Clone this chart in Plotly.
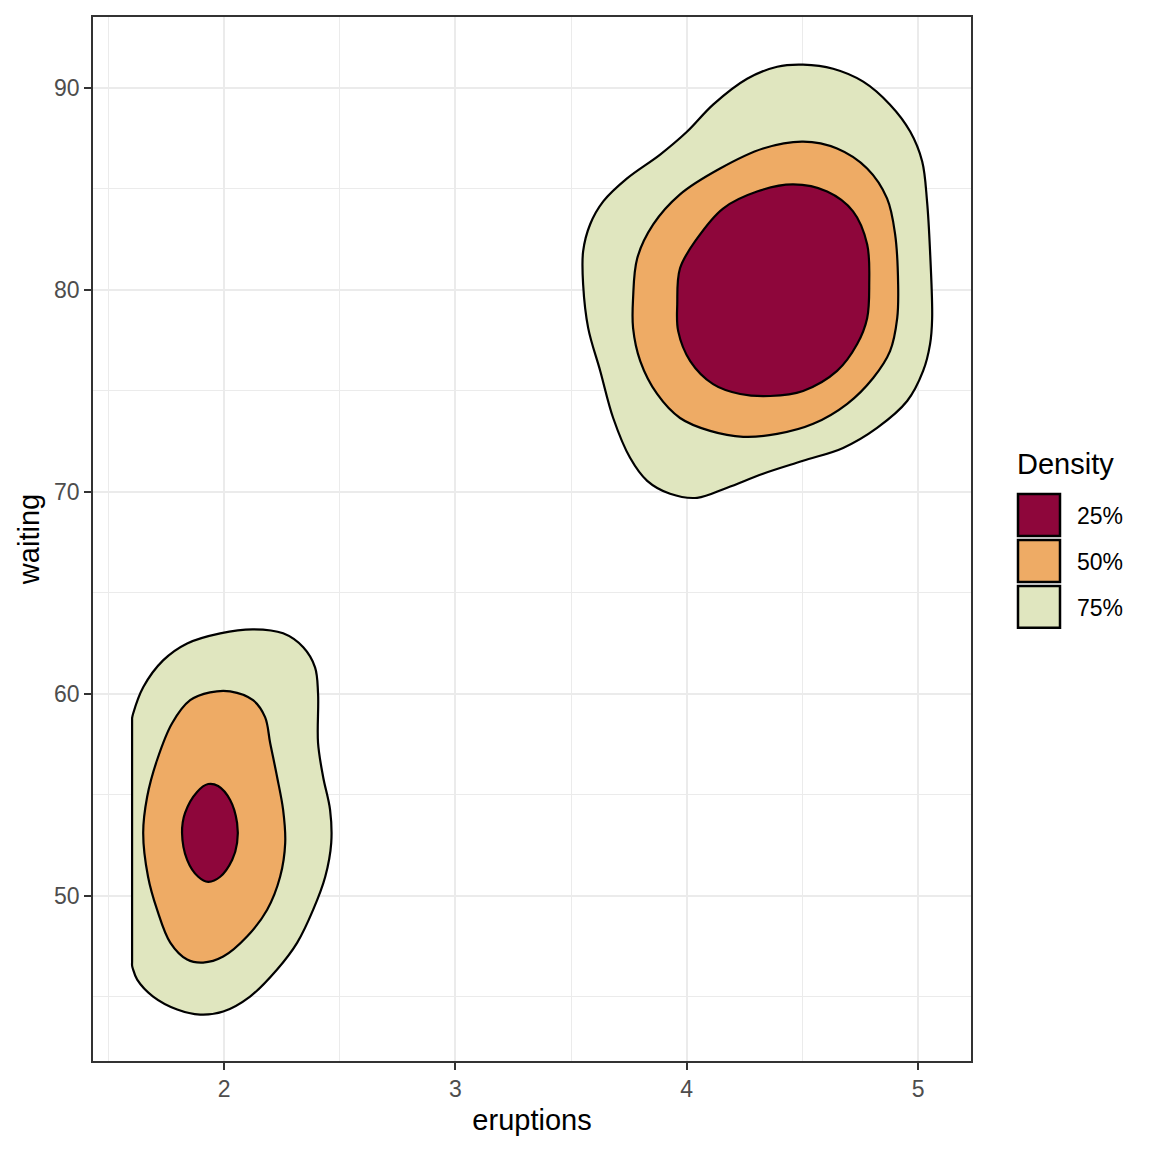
import plotly.graph_objects as go

# Highest-density-region outlines for faithful (eruptions vs waiting),
# read off the reference plot. Two clusters, three levels each.
levels = ['25%', '50%', '75%']
level_fill = {'25%': '#8E063B', '50%': '#EEAB65', '75%': '#E0E6BF'}

# long-eruption cluster (upper right)
hi_75_x = [3.552, 3.582, 3.639, 3.742, 3.885, 4.002, 4.114, 4.261, 4.391, 4.503,
           4.633, 4.763, 4.879, 4.966, 5.018, 5.039, 5.052, 5.061, 5.052, 5.022,
           4.953, 4.823, 4.676, 4.503, 4.330, 4.175, 4.045, 3.928, 3.829, 3.755,
           3.682, 3.626, 3.574, 3.552, 3.552]
hi_75_y = [81.90, 83.23, 84.37, 85.51, 86.69, 87.83, 89.16, 90.44, 91.04, 91.14,
           90.94, 90.30, 89.16, 87.83, 86.35, 84.37, 81.90, 78.59, 77.31, 75.98,
           74.49, 73.16, 72.17, 71.53, 70.89, 70.20, 69.70, 69.90, 70.54, 71.68,
           73.65, 75.98, 78.10, 80.27, 81.90]

hi_50_x = [3.768, 3.786, 3.855, 3.971, 4.144, 4.330, 4.503, 4.650, 4.780, 4.866,
           4.901, 4.914, 4.910, 4.879, 4.806, 4.694, 4.547, 4.391, 4.244, 4.101,
           3.971, 3.872, 3.799, 3.768, 3.768]
hi_50_y = [79.58, 81.56, 83.23, 84.72, 86.00, 86.99, 87.33, 86.99, 86.00, 84.52,
           82.74, 80.27, 78.59, 76.96, 75.63, 74.35, 73.36, 72.86, 72.72, 73.01,
           73.65, 74.84, 76.47, 78.10, 79.58]

hi_25_x = [3.959, 3.971, 4.045, 4.157, 4.304, 4.460, 4.607, 4.719, 4.780, 4.789,
           4.780, 4.737, 4.650, 4.503, 4.361, 4.231, 4.114, 4.015, 3.963, 3.959]
hi_25_y = [79.28, 81.06, 82.54, 84.02, 84.86, 85.21, 84.86, 83.88, 82.25, 80.27,
           78.59, 77.31, 75.98, 74.99, 74.74, 74.84, 75.33, 76.47, 77.95, 79.28]

# short-eruption cluster (lower left), cut flat at the smallest eruption time
lo_75_x = [1.602, 1.606, 1.650, 1.736, 1.840, 1.983, 2.125, 2.255, 2.342, 2.393,
           2.406, 2.406, 2.428, 2.458, 2.463, 2.437, 2.385, 2.316, 2.229, 2.112,
           1.996, 1.896, 1.797, 1.693, 1.624, 1.605, 1.602, 1.602, 1.602, 1.602,
           1.602, 1.602, 1.602]
lo_75_y = [58.79, 59.00, 60.32, 61.65, 62.49, 62.99, 63.19, 62.99, 62.30, 61.31,
           60.02, 57.56, 55.88, 54.25, 52.62, 50.94, 49.31, 47.68, 46.35, 45.01,
           44.27, 44.12, 44.37, 45.01, 45.85, 46.40, 46.54, 46.75, 50.60, 54.70,
           58.60, 58.79, 58.79]

lo_50_x = [1.650, 1.667, 1.710, 1.775, 1.853, 1.939, 2.026, 2.125, 2.177, 2.199,
           2.229, 2.255, 2.264, 2.242, 2.186, 2.099, 1.996, 1.909, 1.840, 1.767,
           1.710, 1.671, 1.650]
lo_50_y = [53.11, 54.89, 56.72, 58.54, 59.68, 60.07, 60.12, 59.68, 58.84, 57.56,
           55.88, 54.25, 52.62, 50.94, 49.31, 47.98, 46.99, 46.69, 46.84, 47.68,
           49.31, 50.94, 53.11]

lo_25_x = [1.818, 1.831, 1.883, 1.931, 1.974, 2.026, 2.056, 2.056, 2.035, 1.983,
           1.931, 1.888, 1.840, 1.818]
lo_25_y = [53.11, 54.10, 55.14, 55.53, 55.43, 54.74, 53.60, 52.62, 51.78, 50.94,
           50.69, 50.94, 51.78, 53.11]

x_ticks = [2, 3, 4, 5]
y_ticks = [50, 60, 70, 80, 90]

regions = [
    ('75%', hi_75_x, hi_75_y), ('50%', hi_50_x, hi_50_y), ('25%', hi_25_x, hi_25_y),
    ('75%', lo_75_x, lo_75_y), ('50%', lo_50_x, lo_50_y), ('25%', lo_25_x, lo_25_y),
]

fig = go.Figure()
for lvl, xs, ys in regions:
    fig.add_trace(go.Scatter(
        x=xs, y=ys, mode='lines', fill='toself',
        fillcolor=level_fill[lvl],
        line=dict(color='black', width=2.2, shape='spline', smoothing=1),
        name=lvl, showlegend=False, hoverinfo='skip',
    ))

# panel edges in page pixels; the page body adds an 8px offset
OFF = 8
L, R, T, B = 93, 971, 15, 1061
W = H = 1152 - 2 * OFF


def px_x(px):
    return (px - L) / (R - L)


def px_y(py):
    return (B - py) / (B - T)


# hand-built legend so the keys get ggplot's big boxes
shapes = []
annotations = [dict(text='Density', x=px_x(1015), y=px_y(463), xref='paper', yref='paper',
                    xanchor='left', yanchor='middle', showarrow=False,
                    font=dict(size=29, color='black'))]
for i, lvl in enumerate(levels):
    top = 493 + i * 46
    shapes.append(dict(type='rect', xref='paper', yref='paper',
                       x0=px_x(1018), x1=px_x(1060), y0=px_y(top + 42), y1=px_y(top),
                       fillcolor=level_fill[lvl], line=dict(color='black', width=2.5)))
    annotations.append(dict(text=lvl, x=px_x(1075), y=px_y(top + 22), xref='paper', yref='paper',
                            xanchor='left', yanchor='middle', showarrow=False,
                            font=dict(size=23, color='black')))

axis_common = dict(
    showgrid=True, gridcolor='#EBEBEB', gridwidth=2,
    showline=True, linecolor='#333333', linewidth=1.5, mirror=True,
    ticks='outside', ticklen=7, tickwidth=2, tickcolor='#333333',
    tickfont=dict(size=23, color='#4D4D4D'),
    zeroline=False,
)

fig.update_layout(
    width=W, height=H,
    margin=dict(l=L - OFF, r=W - (R - OFF), t=T - OFF, b=H - (B - OFF)),
    paper_bgcolor='white', plot_bgcolor='white',
    font=dict(family='Liberation Sans, Arial, sans-serif'),
    xaxis=dict(range=[1.433, 5.229], tickvals=x_ticks,
               minor=dict(dtick=0.5, showgrid=True, gridcolor='#EBEBEB', gridwidth=1),
               title=dict(text='eruptions', font=dict(size=29, color='black'), standoff=8),
               **axis_common),
    yaxis=dict(range=[41.82, 93.5], tickvals=y_ticks,
               minor=dict(dtick=5, showgrid=True, gridcolor='#EBEBEB', gridwidth=1),
               title=dict(text='waiting', font=dict(size=29, color='black'), standoff=6),
               **axis_common),
    shapes=shapes, annotations=annotations,
)

fig.write_html("out.html")
